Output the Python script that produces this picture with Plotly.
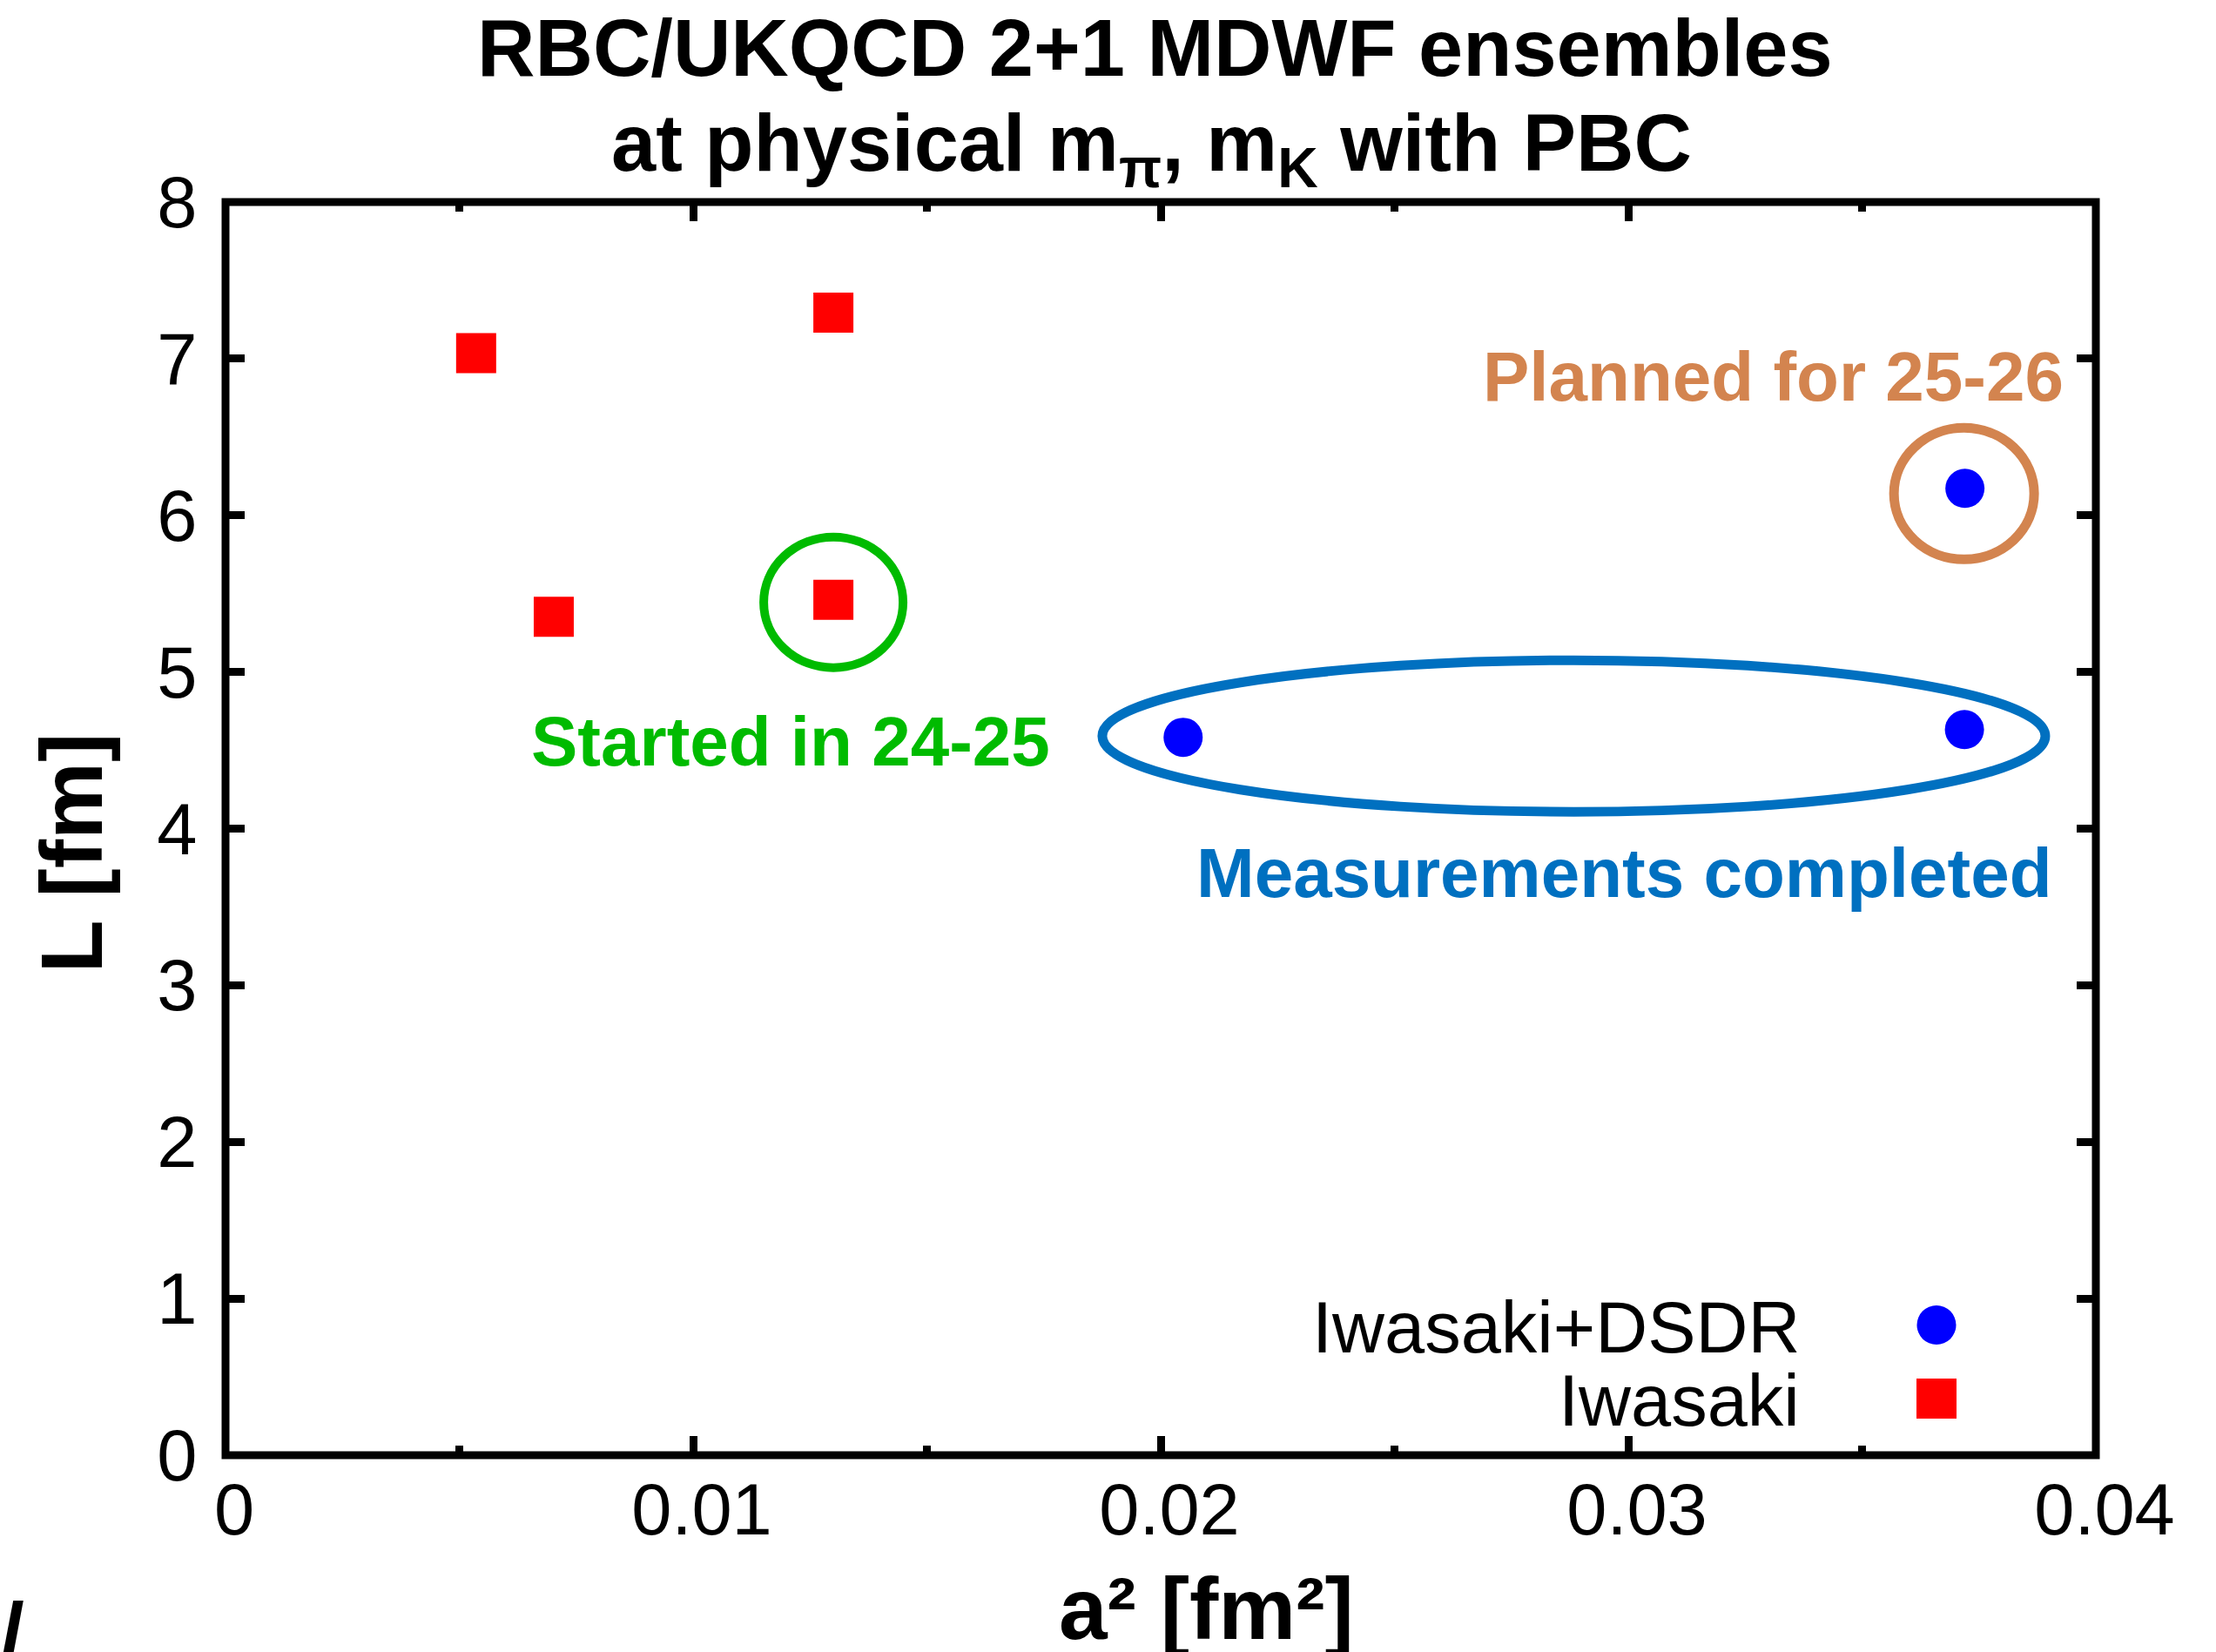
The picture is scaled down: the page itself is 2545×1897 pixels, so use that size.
import plotly.graph_objects as go

# Ensembles: a^2 [fm^2] and box size L [fm]
dsdr_a2 = [0.02048, 0.03719, 0.03720]
dsdr_L = [4.583, 4.632, 6.172]
dsdr_name = "Iwasaki+DSDR"

iwasaki_a2 = [0.00536, 0.00702, 0.01300, 0.01300]
iwasaki_L = [7.035, 5.352, 7.294, 5.461]
iwasaki_name = "Iwasaki"

x_ticks = [0, 0.01, 0.02, 0.03, 0.04]
x_tick_labels = ["0", "0.01", "0.02", "0.03", "0.04"]
y_ticks = [0, 1, 2, 3, 4, 5, 6, 7, 8]
y_tick_labels = ["0", "1", "2", "3", "4", "5", "6", "7", "8"]

title_lines = ["RBC/UKQCD 2+1 MDWF ensembles",
               "at physical m<sub>π</sub>, m<sub>K</sub> with PBC"]
x_title = "a² [fm²]"
y_title = "L [fm]"

notes = ["Started in 24-25", "Planned for 25-26", "Measurements completed"]
note_x = [0.01209, 0.03310, 0.02992]
note_y = [4.555, 6.883, 3.719]

BLUE = "#0000FF"
RED = "#FF0000"
GREEN = "#00BB00"
ORANGE = "#D3844F"
STEEL = "#0070C0"
FONT = "Liberation Sans"

fig = go.Figure()
fig.add_trace(go.Scatter(
    x=dsdr_a2, y=dsdr_L, mode="markers", name=dsdr_name,
    marker=dict(symbol="circle", size=45, color=BLUE, line=dict(width=0)),
))
fig.add_trace(go.Scatter(
    x=iwasaki_a2, y=iwasaki_L, mode="markers", name=iwasaki_name,
    marker=dict(symbol="square", size=46, color=RED, line=dict(width=0)),
))

tick_common = dict(
    ticks="inside", ticklen=22, tickwidth=9, tickcolor="black",
    showgrid=False, zeroline=False, showline=True,
    linecolor="rgba(0,0,0,0)", linewidth=1, mirror="ticks",
    tickfont=dict(family=FONT, size=83, color="black"),
)

fig.update_layout(
    width=2545, height=1897,
    margin=dict(l=259, r=138, t=232, b=226, pad=0),
    paper_bgcolor="white", plot_bgcolor="white",
    showlegend=False,
    xaxis=dict(range=[0, 0.04], tickmode="array", tickvals=x_ticks,
               ticktext=x_tick_labels, ticklabelstandoff=-10,
               ticklabelshift=10,
               minor=dict(ticks="inside", dtick=0.005, tick0=0, ticklen=11,
                          tickwidth=9, tickcolor="black", showgrid=False),
               **tick_common),
    yaxis=dict(range=[0, 8], tickmode="array", tickvals=y_ticks,
               ticktext=y_tick_labels, ticklabelstandoff=15,
               **tick_common),
)

annotations = []
# Two-line title
annotations.append(dict(text=f"<b>{title_lines[0]}</b>", xref="paper", yref="paper",
                        x=0.4972, y=1.1233, xanchor="center", yanchor="middle",
                        showarrow=False, font=dict(family=FONT, size=92, color="black")))
annotations.append(dict(text=f"<b>{title_lines[1]}</b>", xref="paper", yref="paper",
                        x=0.4953, y=1.0425, xanchor="center", yanchor="middle",
                        showarrow=False, font=dict(family=FONT, size=92, color="black")))
# Axis titles
annotations.append(dict(text=f"<b>{x_title}</b>", xref="paper", yref="paper",
                        x=0.5245, y=-0.1223, xanchor="center", yanchor="middle",
                        showarrow=False, font=dict(family=FONT, size=100, color="black")))
annotations.append(dict(text=f"<b>{y_title}</b>", xref="paper", yref="paper",
                        x=-0.0824, y=0.4805, xanchor="center", yanchor="middle",
                        textangle=-90, showarrow=False,
                        font=dict(family=FONT, size=100, color="black")))
# Status notes
for txt, nx, ny, col in zip(notes, note_x, note_y, [GREEN, ORANGE, STEEL]):
    annotations.append(dict(text=f"<b>{txt}</b>", x=nx, y=ny, xref="x", yref="y",
                            xanchor="center", yanchor="middle", showarrow=False,
                            font=dict(family=FONT, size=80, color=col)))
# Key labels (text to the left of the symbols)
annotations.append(dict(text=dsdr_name, xref="paper", yref="paper", x=0.8426, y=0.1015,
                        xanchor="right", yanchor="middle", showarrow=False,
                        font=dict(family=FONT, size=83, color="black")))
annotations.append(dict(text=iwasaki_name, xref="paper", yref="paper", x=0.8426, y=0.0431,
                        xanchor="right", yanchor="middle", showarrow=False,
                        font=dict(family=FONT, size=83, color="black")))
# Stray slash in the lower-left corner
annotations.append(dict(text="<b>/</b>", xref="paper", yref="paper", x=-0.114, y=-0.1022,
                        xanchor="center", yanchor="top", showarrow=False,
                        font=dict(family=FONT, size=100, color="black")))
fig.update_layout(annotations=annotations)

shapes = []
# Ellipses around highlighted ensembles (pixel-sized, anchored on the data)
shapes.append(dict(type="circle", xref="x", yref="y", xsizemode="pixel", ysizemode="pixel",
                   xanchor=iwasaki_a2[3], yanchor=iwasaki_L[3],
                   x0=-80, x1=80, y0=-78, y1=72,
                   line=dict(color=GREEN, width=10), fillcolor="rgba(0,0,0,0)"))
shapes.append(dict(type="circle", xref="x", yref="y", xsizemode="pixel", ysizemode="pixel",
                   xanchor=dsdr_a2[2], yanchor=dsdr_L[2],
                   x0=-81.5, x1=79.5, y0=-81.5, y1=69.5,
                   line=dict(color=ORANGE, width=11), fillcolor="rgba(0,0,0,0)"))
shapes.append(dict(type="circle", xref="x", yref="y", xsizemode="pixel", ysizemode="pixel",
                   xanchor=(dsdr_a2[0] + dsdr_a2[1]) / 2, yanchor=(dsdr_L[0] + dsdr_L[1]) / 2,
                   x0=-541.5, x1=541.5, y0=-90, y1=84,
                   line=dict(color=STEEL, width=11), fillcolor="rgba(0,0,0,0)"))
# Key symbols
shapes.append(dict(type="circle", xref="paper", yref="paper", xsizemode="pixel", ysizemode="pixel",
                   xanchor=0.9148, yanchor=0.1039, x0=-22.5, x1=22.5, y0=-22.5, y1=22.5,
                   line=dict(width=0), fillcolor=BLUE))
shapes.append(dict(type="rect", xref="paper", yref="paper", xsizemode="pixel", ysizemode="pixel",
                   xanchor=0.9148, yanchor=0.0452, x0=-23, x1=23, y0=-23, y1=23,
                   line=dict(width=0), fillcolor=RED))
# Plot frame
shapes.append(dict(type="rect", xref="paper", yref="paper", x0=0, x1=1, y0=0, y1=1,
                   line=dict(color="black", width=9), fillcolor="rgba(0,0,0,0)", layer="above"))
fig.update_layout(shapes=shapes)

fig.write_html("out.html")
